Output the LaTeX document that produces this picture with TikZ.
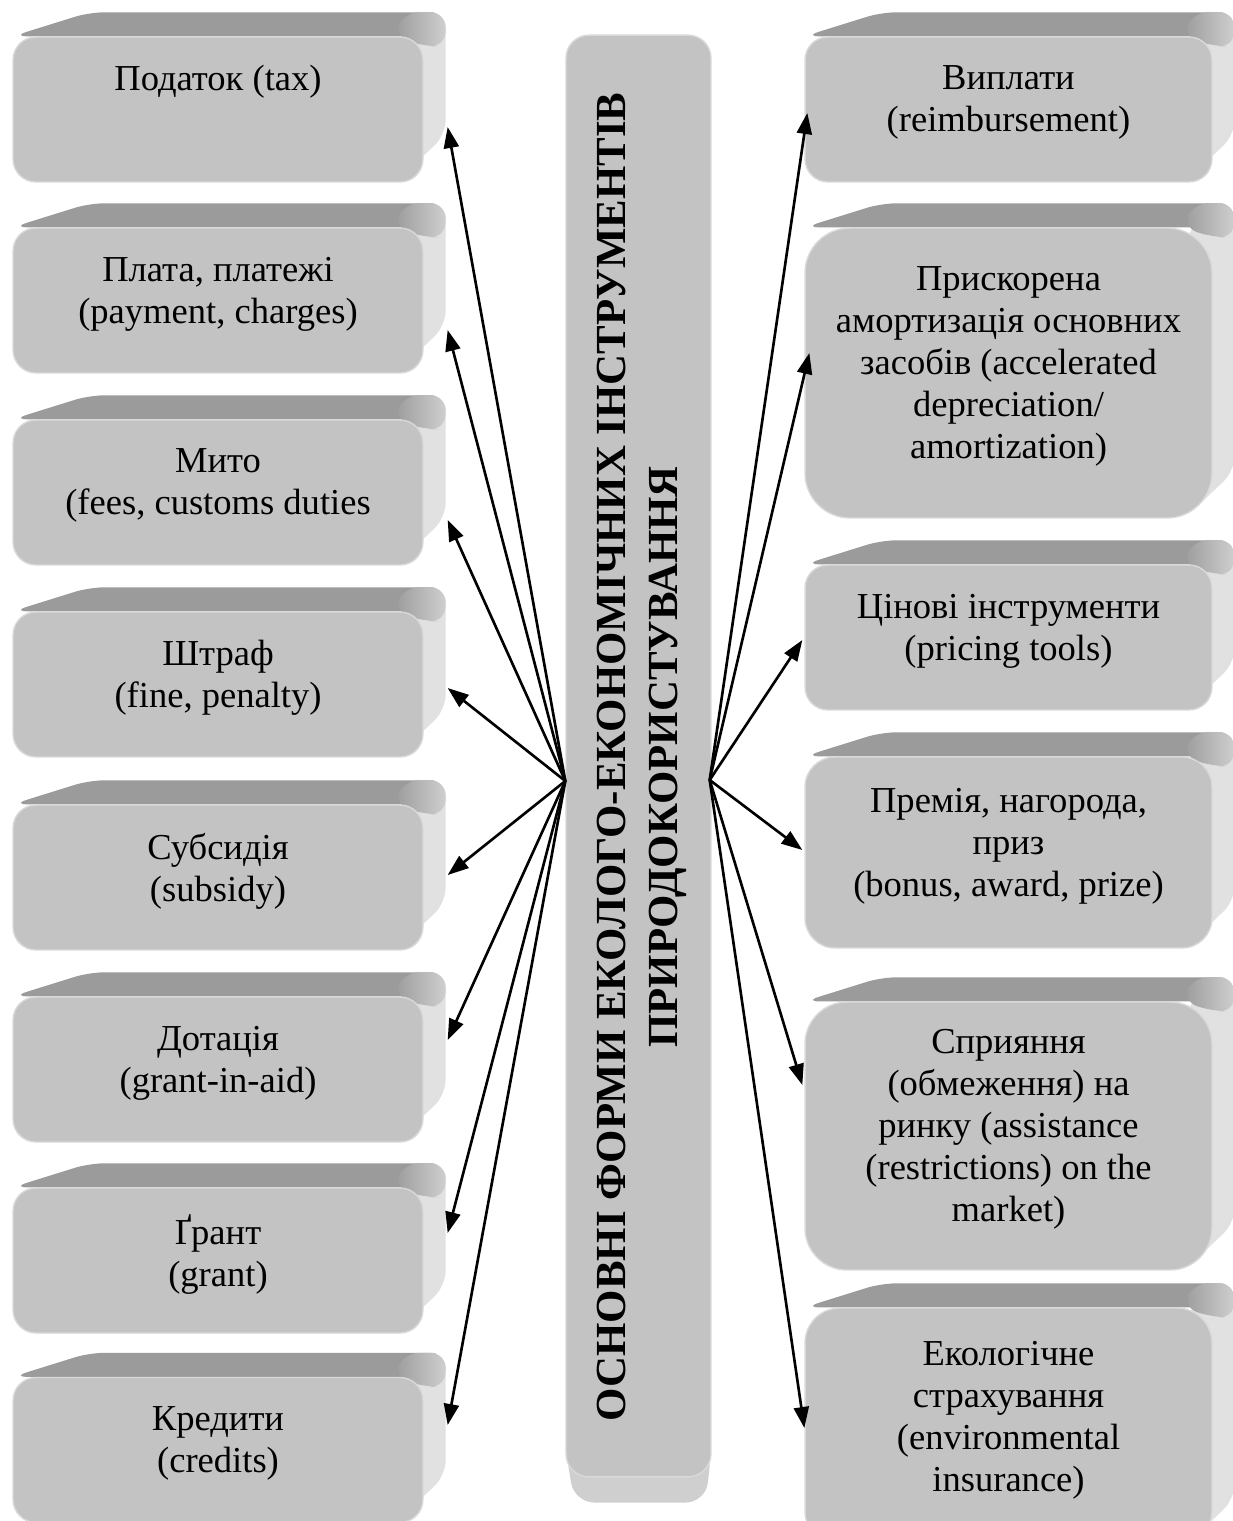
\documentclass[tikz,border=0pt]{standalone}
\usepackage{fontspec}
\setmainfont{Liberation Serif}
\usetikzlibrary{arrows.meta,calc,backgrounds}

\definecolor{facegray}{HTML}{C3C3C3}
\definecolor{topgray}{HTML}{9B9B9B}
\definecolor{sidegray}{HTML}{E1E1E1}
\definecolor{sidetop}{HTML}{CFCFCF}
\definecolor{rimgray}{HTML}{D9D9D9}

\newcommand{\boxfont}{\fontsize{20.8}{23.9}\selectfont}
\newcommand{\titlefont}{\fontsize{24.4}{29.5}\selectfont\bfseries}

\begin{document}
\begin{tikzpicture}[x=0.02cm, y=-0.02cm,
    frontbox/.style={draw=rimgray, line width=0.8pt, fill=facegray, rounded corners=#1,
        minimum height=2.9cm, align=center, font=\boxfont, inner sep=0pt, text depth=0.42cm},
    frontbox/.default=0.46cm,
    leftbox/.style={frontbox, minimum width=8.2cm},
    rightbox/.style={frontbox=#1, minimum width=8.14cm},
    rightbox/.default=0.46cm,
    colbox/.style={draw=rimgray, line width=0.8pt, fill=facegray, rounded corners=0.46cm,
        minimum width=2.9cm, minimum height=28.84cm},
    titletext/.style={rotate=90, align=center, font=\titlefont, inner sep=0pt},
    topface/.style={fill=topgray, rounded corners=0.3cm},
    edgeface/.style={left color=topgray, right color=sidetop, rounded corners=0.3cm},
    sideface/.style={fill=sidegray, rounded corners=0.3cm},
    baseface/.style={left color=sidetop, middle color=topgray, right color=sidetop, rounded corners=0.4cm},
    link/.style={line width=1.5pt, -{Triangle[length=0.42cm, width=0.3cm]}}]

    \useasboundingbox (0,0) rectangle (1232,1521);

    % central column
    \node[colbox] (core) at (638.5,756) {};
    \node[titletext] (title) at ($(core.center)+(3,1)$)
        {ОСНОВНІ ФОРМИ ЕКОЛОГО-ЕКОНОМІЧНИХ ІНСТРУМЕНТІВ\\ПРИРОДОКОРИСТУВАННЯ};

    % left column
    \node[leftbox] (l1) at (218,109.5) {Податок (tax)\\\strut};
    \node[leftbox] (l2) at (218,300.5) {Плата, платежі\\(payment, charges)};
    \node[leftbox] (l3) at (218,492.5) {Мито\\(fees, customs duties};
    \node[leftbox] (l4) at (218,684.5) {Штраф\\(fine, penalty)};
    \node[leftbox] (l5) at (218,877.5) {Субсидія\\(subsidy)};
    \node[leftbox] (l6) at (218,1069.5) {Дотація\\(grant-in-aid)};
    \node[leftbox] (l7) at (218,1260.5) {Ґрант\\(grant)};
    \node[leftbox] (l8) at (218,1450) {Кредити\\(credits)};

    % right column
    \node[rightbox] (r1) at (1008.5,109.5) {Виплати\\(reimbursement)};
    \node[rightbox=0.9cm, minimum height=5.8cm] (r2) at (1008.5,373)
        {Прискорена\\амортизація основних\\засобів (accelerated\\depreciation/\\amortization)};
    \node[rightbox] (r3) at (1008.5,637.5) {Цінові інструменти\\(pricing tools)};
    \node[rightbox=0.6cm, minimum height=3.82cm] (r4) at (1008.5,852.5)
        {Премія, нагорода,\\приз\\(bonus, award, prize)};
    \node[rightbox=0.84cm, minimum height=5.36cm] (r5) at (1008.5,1136)
        {Сприяння\\(обмеження) на\\ринку (assistance\\(restrictions) on the\\market)};
    \node[rightbox=0.7cm, minimum height=4.76cm] (r6) at (1008.5,1427)
        {Екологічне\\страхування\\(environmental\\insurance)};

    % top and side faces
    \begin{scope}[on background layer]
        \foreach \n in {l1,l2,l3,l4,l5,l6,l7,l8,r1,r2,r3,r4,r5,r6}{
            \fill[sideface] ($(\n.north east)+(-25,0)$) -- ($(\n.north east)+(22,-24)$)
                -- ($(\n.south east)+(22,-48)$) -- ($(\n.south east)+(-25,-3)$) -- cycle;
            \fill[topface] (\n.north west) -- ($(\n.north west)+(77,-24)$)
                -- ($(\n.north east)+(22,-24)$) -- (\n.north east) -- cycle;
            \shade[edgeface] ($(\n.north east)+(-30,0)$) -- ($(\n.north east)+(-20,-24)$)
                -- ($(\n.north east)+(22,-24)$) -- ($(\n.north east)+(22,10)$)
                -- ($(\n.north east)+(0,10)$) -- cycle;
        }
        \shade[baseface] ($(core.south west)+(0,-30)$) -- ($(core.south west)+(9,25)$)
            -- ($(core.south east)+(-6,25)$) -- ($(core.south east)+(0,-30)$) -- cycle;
    \end{scope}

    \coordinate (hubl) at ($(core.west)+(0,25)$);
    \coordinate (hubr) at ($(core.east)+(-2,24)$);

    \draw[link] (hubl) -- ($(l1.east)+(24,17.5)$);
    \draw[link] (hubl) -- ($(l2.east)+(24,29.5)$);
    \draw[link] (hubl) -- ($(l3.east)+(24,27.5)$);
    \draw[link] (hubl) -- ($(l4.east)+(24,3.5)$);
    \draw[link] (hubl) -- ($(l5.east)+(24,-2.5)$);
    \draw[link] (hubl) -- ($(l6.east)+(24,-29.5)$);
    \draw[link] (hubl) -- ($(l7.east)+(24,-27.5)$);
    \draw[link] (hubl) -- ($(l8.east)+(24,-25)$);

    \draw[link] (hubr) -- ($(r1.west)+(3,3.5)$);
    \draw[link] (hubr) -- ($(r2.west)+(5,-20)$);
    \draw[link] (hubr) -- ($(r3.west)+(-2,2.5)$);
    \draw[link] (hubr) -- ($(r4.west)+(-2,-2.5)$);
    \draw[link] (hubr) -- ($(r5.west)+(-2,-51)$);
    \draw[link] (hubr) -- ($(r6.west)+(0,1)$);
\end{tikzpicture}
\end{document}
